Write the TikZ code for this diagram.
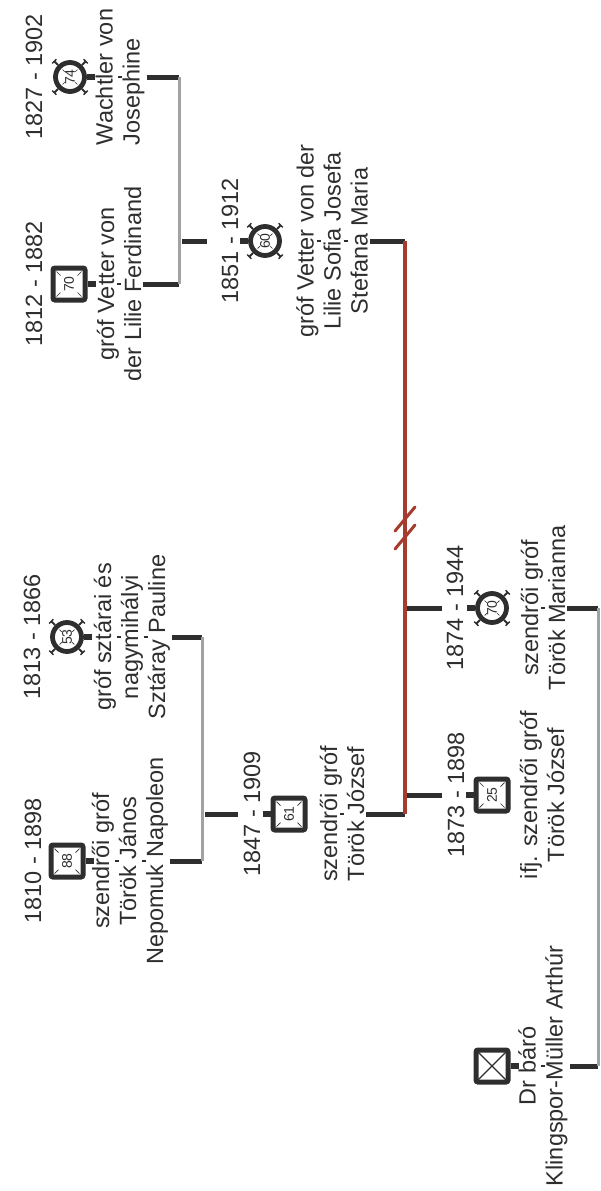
\documentclass[tikz,border=0pt]{standalone}
\usepackage{fontspec}
\usepackage{graphicx}
\setmainfont{Liberation Sans}
\usetikzlibrary{arrows.meta}

\definecolor{ink}{HTML}{2E2E2E}
\definecolor{wedgray}{HTML}{A2A2A2}
\definecolor{lineage}{HTML}{A53C2E}

\tikzset{
  person/.style={rotate=90, align=center, inner sep=2pt, text=ink, font=\fontsize{23.5}{27}\selectfont},
  lifespan/.style={rotate=90, inner sep=1pt, text=ink, font=\fontsize{23.5}{27}\selectfont},
  sqbox/.style={draw=ink, line width=5pt, rounded corners=2pt, minimum size=32pt, inner sep=0pt, fill=white,
    text=ink, font=\fontsize{14}{14}\selectfont},
  male/.style={sqbox, path picture={
      \foreach \cn/\dx/\dy in {north west/1/1, north east/-1/1, south west/1/-1, south east/-1/-1}
        \draw[ink, line width=0.7pt] ([shift={(3.5*\dx,3.5*\dy)}]path picture bounding box.\cn) -- ++(4*\dx,4*\dy);
    }},
  maleunknown/.style={sqbox, path picture={
      \draw[ink, line width=1.3pt] (path picture bounding box.north west) -- (path picture bounding box.south east)
        (path picture bounding box.north east) -- (path picture bounding box.south west);
    }},
  female/.style={circle, draw=ink, line width=4.8pt, minimum size=29pt, inner sep=0pt, fill=white,
    text=ink, font=\fontsize{14}{14}\selectfont, path picture={
      \foreach \a in {45,135,225,315}
        \draw[ink, line width=0.7pt] ([shift={(\a:10.5pt)}]path picture bounding box.center) -- ([shift={(\a:7.5pt)}]path picture bounding box.center);
    }},
  spoke/.style={ink, line width=1.8pt, -{Bar[width=6pt, line width=1.5pt]}},
  link/.style={ink, line width=5pt},
  wedlock/.style={wedgray, line width=3pt},
  bloodline/.style={lineage, line width=4pt},
  gapdash/.style={ink, line width=1.5pt}
}

\begin{document}
\begin{tikzpicture}[x=1pt, y=-1pt]
\useasboundingbox (0,0) rectangle (600,1191);

% Vetter von der Lilie - Wachtler
\node[female] (sJos) at (70,77) {\rotatebox{90}{74}};
\node[lifespan] (dJos) at (34,77) {1827 - 1902};
\node[person, align=left] (nJos) at (120,77) {Wachtler von\\Josephine};

\node[male] (sFer) at (69,284) {\rotatebox{90}{70}};
\node[lifespan] (dFer) at (34,284) {1812 - 1882};
\node[person] (nFer) at (119,284) {gróf Vetter von\\der Lilie Ferdinand};

\node[female] (sSof) at (265,241) {\rotatebox{90}{60}};
\node[lifespan] (dSof) at (230,241) {1851 - 1912};
\node[person] (nSof) at (332,241) {gróf Vetter von der\\Lilie Sofia Josefa\\Stefana Maria};

% Török - Sztáray
\node[female] (sPau) at (67,637) {\rotatebox{90}{53}};
\node[lifespan] (dPau) at (32,637) {1813 - 1866};
\node[person] (nPau) at (132,637) {gróf sztárai és\\nagymihályi\\Sztáray Pauline};

\node[male] (sJan) at (67,861) {\rotatebox{90}{88}};
\node[lifespan] (dJan) at (33,861) {1810 - 1898};
\node[person] (nJan) at (130,861) {szendrői gróf\\Török János\\Nepomuk Napoleon};

\node[male] (sJoz) at (289,814) {\rotatebox{90}{61}};
\node[lifespan] (dJoz) at (252,814) {1847 - 1909};
\node[person] (nJoz) at (342,814) {szendrői gróf\\Török József};

% children
\node[female] (sMar) at (492,608) {\rotatebox{90}{70}};
\node[lifespan] (dMar) at (455,608) {1874 - 1944};
\node[person] (nMar) at (543,608) {szendrői gróf\\Török Marianna};

\node[male] (sIfj) at (492,795) {\rotatebox{90}{25}};
\node[lifespan] (dIfj) at (456,795) {1873 - 1898};
\node[person] (nIfj) at (542,795) {ifj. szendrői gróf\\Török József};

\node[maleunknown] (sKli) at (492,1066) {};
\node[person] (nKli) at (543,1066) {Dr báró\\Klingspor-Müller Arthúr};

% nubs, spokes, marks
\foreach \s in {sJos,sFer,sPau,sJan,sKli}
  \fill[ink] ([shift={(0,-3)}]\s.east) rectangle ++(8,6);
\foreach \s in {sSof,sJoz,sMar,sIfj}
  \fill[ink] ([shift={(-8,-3)}]\s.west) rectangle ++(8,6);
\foreach \s in {sJos,sPau,sSof,sMar}
  \foreach \a in {45,135,225,315}
    \draw[spoke] (\s.\a) -- ([shift={(\a:6pt)}]\s.\a);
\foreach \n in {nJos,nFer,nJoz,nMar,nKli}
  \draw[gapdash] ([xshift=-2]\n.center) -- ([xshift=2]\n.center);
\foreach \n in {nSof,nPau,nJan}
  \foreach \d in {-13.5,13.5}
    \draw[gapdash] ([xshift=\d-2]\n.center) -- ([xshift=\d+2]\n.center);

% unions
\coordinate (b1) at (179,0);
\coordinate (b2) at (202,0);
\coordinate (b3) at (405,0);
\coordinate (b4) at (598,0);
\coordinate (kSof) at (207,241);
\coordinate (kJoz) at (238,814);
\coordinate (kMar) at (442,608);
\coordinate (kIfj) at (442,795);
\coordinate (brk) at (405,528);

\draw[link] (nJos.south) -- (nJos.south -| b1);
\draw[link] (nFer.south) -- (nFer.south -| b1);
\draw[wedlock] (nJos.south -| b1) -- (nFer.south -| b1);
\draw[link] ([xshift=3]sSof -| b1) -- (kSof);

\draw[link] (nPau.south) -- (nPau.south -| b2);
\draw[link] (nJan.south) -- (nJan.south -| b2);
\draw[wedlock] (nPau.south -| b2) -- (nJan.south -| b2);
\draw[link] ([xshift=3]sJoz -| b2) -- (kJoz);

\draw[link] (nSof.south) -- (nSof.south -| b3);
\draw[link] (nJoz.south) -- (nJoz.south -| b3);
\draw[link] (sMar -| b3) -- (kMar);
\draw[link] (sIfj -| b3) -- (kIfj);
\draw[bloodline] (nSof.south -| b3) -- (nJoz.south -| b3);
\foreach \dy in {-9,9}
  \draw[lineage, line width=3pt, line cap=round] ([shift={(-10,\dy+12)}]brk) -- ([shift={(10,\dy-12)}]brk);

\draw[link] (nMar.south) -- (nMar.south -| b4);
\draw[link] (nKli.south) -- (nKli.south -| b4);
\draw[wedlock] (nMar.south -| b4) -- (nKli.south -| b4);
\end{tikzpicture}
\end{document}
